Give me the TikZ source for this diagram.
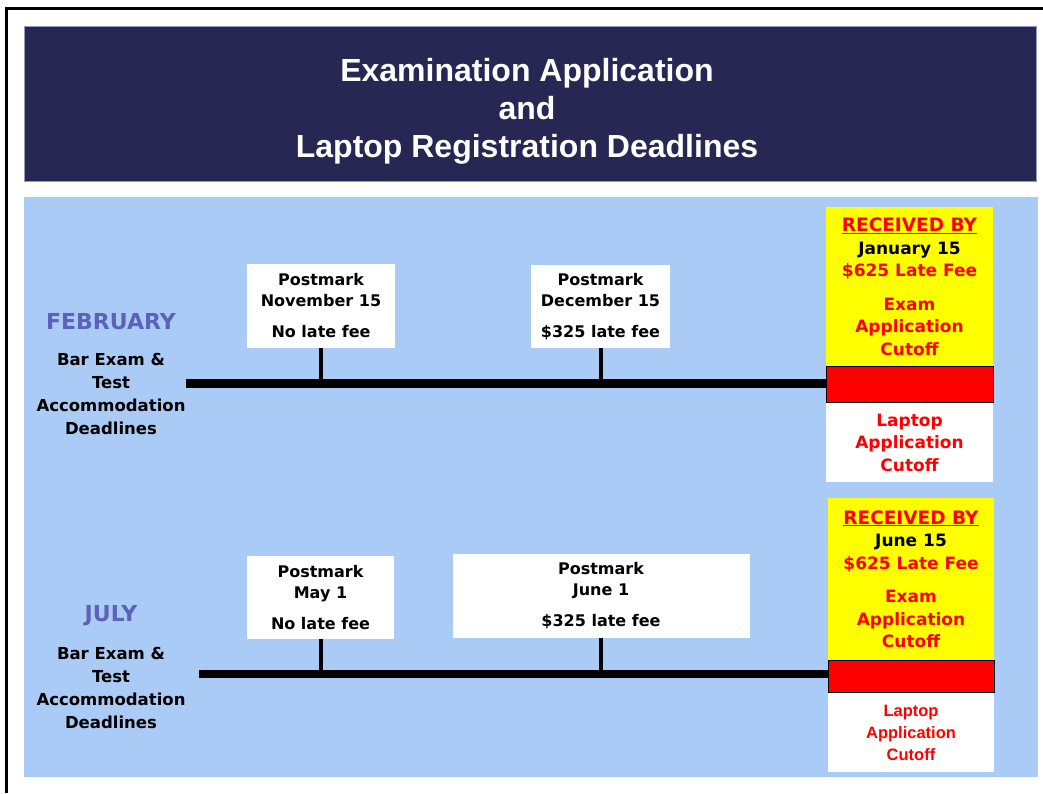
\documentclass[tikz,border=0pt]{standalone}
\usepackage{fontspec}
\setmainfont{DejaVu Sans}
\newfontfamily\titlefont{Liberation Sans}
\definecolor{navy}{RGB}{38,40,83}
\definecolor{navyedge}{RGB}{150,152,190}
\definecolor{panel}{RGB}{171,203,247}
\definecolor{month}{RGB}{92,98,184}
\definecolor{ylw}{RGB}{255,255,0}
\definecolor{rd}{RGB}{255,0,0}
\begin{document}
\begin{tikzpicture}[x=1pt,y=-1pt,
  body/.style={font=\bfseries\fontsize{16}{21}\selectfont, align=center},
  datebox/.style={body, fill=white, inner sep=0pt},
  monthlbl/.style={font=\bfseries\fontsize{22}{25}\selectfont, text=month},
  sidelbl/.style={font=\bfseries\fontsize{16.5}{23}\selectfont, align=center},
  cutbox/.style={font=\bfseries\fontsize{17}{22.5}\selectfont, align=center, text=rd, inner sep=0pt},
  redbar/.style={fill=rd, draw=black, line width=1pt, inner sep=0pt},
  tickline/.style={line width=4pt},
  timeline/.style={line width=8.5pt},
]
\useasboundingbox (0,0) rectangle (1043,793);
\draw[line width=3pt] (6,793) -- (6,8) -- (1043,8);
% title
\node[fill=navy, draw=navyedge, line width=0.6pt, minimum width=1012pt, minimum height=155pt, inner sep=0pt] (titlebox) at (530,103.5) {};
\node[font=\titlefont\bfseries\fontsize{32}{38}\selectfont, text=white, align=center] (title) at (527,111)
  {Examination Application\\and\\Laptop Registration Deadlines};
% panel
\fill[panel] (24,197) rectangle (1038,777);

% February row
\node[monthlbl] (fm) at (111,322) {FEBRUARY};
\node[sidelbl] (fl) at (111,393.5) {Bar Exam \&\\Test\\Accommodation\\Deadlines};
\coordinate (fs) at (186,383.5);
\node[datebox, minimum width=148pt, minimum height=84pt] (f1) at (321,306) {Postmark\\November 15\\[10pt]No late fee};
\node[datebox, minimum width=139pt, minimum height=83pt] (f2) at (600.5,306.5) {Postmark\\December 15\\[10pt]\$325 late fee};
\node[cutbox, fill=ylw, minimum width=167pt, minimum height=159pt] (fy) at (909.5,286.5)
  {{\fontsize{18.5}{22.5}\selectfont\underline{RECEIVED BY}}\\\textcolor{black}{January 15}\\\$625 Late Fee\\[11pt]Exam\\Application\\Cutoff};
\node[redbar, minimum width=167pt, minimum height=36pt, anchor=north] (fr) at (fy.south) {};
\node[cutbox, fill=white, minimum width=167pt, minimum height=79pt, anchor=north] (fw) at (fr.south) {Laptop\\Application\\Cutoff};
\draw[timeline] (fs) -- (fs -| fr.west);
\draw[tickline] (f1.south) -- (f1.south |- fs);
\draw[tickline] (f2.south) -- (f2.south |- fs);

% July row
\node[monthlbl] (jm) at (111,616) {JULY};
\node[sidelbl] (jl) at (111,688) {Bar Exam \&\\Test\\Accommodation\\Deadlines};
\coordinate (js) at (199,674);
\node[datebox, minimum width=147pt, minimum height=83pt] (j1) at (320.5,597.5) {Postmark\\May 1\\[10pt]No late fee};
\node[datebox, minimum width=297pt, minimum height=84pt] (j2) at (601,596) {Postmark\\June 1\\[10pt]\$325 late fee};
\node[cutbox, fill=ylw, minimum width=166pt, minimum height=162pt] (jy) at (911,579)
  {{\fontsize{18.5}{22.5}\selectfont\underline{RECEIVED BY}}\\\textcolor{black}{June 15}\\\$625 Late Fee\\[11pt]Exam\\Application\\Cutoff};
\node[redbar, minimum width=166pt, minimum height=32pt, anchor=north] (jr) at (jy.south) {};
\node[cutbox, font=\titlefont\bfseries\fontsize{16.5}{22}\selectfont, fill=white, minimum width=166pt, minimum height=79pt, anchor=north] (jw) at (jr.south) {Laptop\\Application\\Cutoff};
\draw[timeline] (js) -- (js -| jr.west);
\draw[tickline] (j1.south) -- (j1.south |- js);
\draw[tickline] (j2.south) -- (j2.south |- js);
\end{tikzpicture}
\end{document}
